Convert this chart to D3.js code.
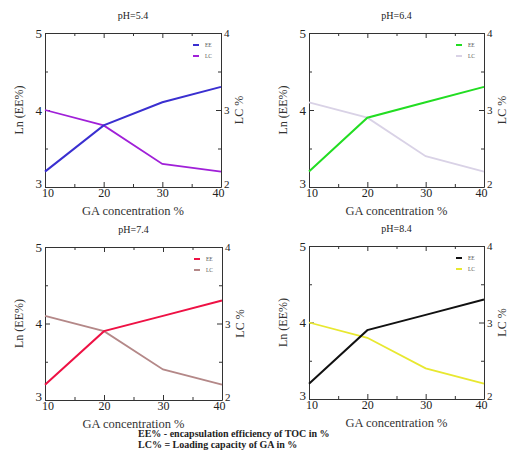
<!DOCTYPE html>
<html><head><meta charset="utf-8">
<script src="https://cdn.jsdelivr.net/npm/d3@7"></script>
<style>body{margin:0;background:#fff}svg{display:block}text{font-family:"Liberation Serif","DejaVu Serif",serif}</style>
</head><body><svg id="c" width="512" height="465"></svg>
<script>
const gaConc = [10, 20, 30, 40];
const titles = ["pH=5.4", "pH=6.4", "pH=7.4", "pH=8.4"];
const eeLn = [
  [3.2, 3.8, 4.1, 4.3],
  [3.2, 3.9, 4.1, 4.3],
  [3.2, 3.9, 4.1, 4.3],
  [3.2, 3.9, 4.1, 4.3]
];
const lcPct = [
  [3.0, 2.8, 2.3, 2.2],
  [3.1, 2.9, 2.4, 2.2],
  [3.1, 2.9, 2.4, 2.2],
  [3.0, 2.8, 2.4, 2.2]
];
const eeColors = ["#3a2fd0", "#22dd22", "#ee1144", "#111111"];
const lcColors = ["#a020d8", "#d9d2e6", "#b48888", "#e8e830"];
const legendLabels = ["EE", "LC"];
const xTicks = [10, 20, 30, 40];
const leftTicks = [3, 4, 5];
const rightTicks = [2, 3, 4];
const footer = ["EE% - encapsulation efficiency of TOC in %", "LC% = Loading capacity of GA in %"];

const panels = [
  {l:45, r:221, t:33, b:187},
  {l:309, r:484, t:33, b:187},
  {l:45, r:222, t:247, b:400},
  {l:309, r:484, t:246, b:399}
];
const svg = d3.select("#c");

panels.forEach((p, i) => {
  const g = svg.append("g");
  const x = d3.scaleLinear().domain([10, 40]).range([p.l, p.r]);
  const yL = d3.scaleLinear().domain([3, 5]).range([p.b, p.t]);
  const yR = d3.scaleLinear().domain([2, 4]).range([p.b, p.t]);
  const axStyle = sel => { sel.select(".domain").attr("stroke", "#333").attr("stroke-width", 1);
    sel.selectAll(".tick line").attr("stroke", "#333"); };

  // bottom major + minor
  g.append("g").attr("transform", `translate(0,${p.b})`)
    .call(d3.axisBottom(x).tickValues(xTicks).tickSize(-5).tickPadding(3).tickSizeOuter(0).tickFormat(d3.format("d")))
    .call(axStyle)
    .call(s => s.selectAll("text").attr("font-size", 12).attr("fill", "#222").attr("dy", "0.6em"))
    .call(s => s.selectAll(".tick text").filter(d => d === 10).attr("dx", "0.2em"))
    .call(s => s.selectAll(".tick text").filter(d => d === 40).attr("dx", "-0.25em"));
  g.append("g").attr("transform", `translate(0,${p.b})`)
    .call(d3.axisBottom(x).tickValues([15, 25, 35]).tickSize(-3).tickFormat("").tickSizeOuter(0))
    .call(axStyle).call(s => s.select(".domain").remove());
  // top
  g.append("g").attr("transform", `translate(0,${p.t})`)
    .call(d3.axisTop(x).tickValues(xTicks).tickSize(-5).tickFormat("").tickSizeOuter(0)).call(axStyle);
  g.append("g").attr("transform", `translate(0,${p.t})`)
    .call(d3.axisTop(x).tickValues([15, 25, 35]).tickSize(-3).tickFormat("").tickSizeOuter(0))
    .call(axStyle).call(s => s.select(".domain").remove());
  // left
  g.append("g").attr("transform", `translate(${p.l},0)`)
    .call(d3.axisLeft(yL).tickValues(leftTicks).tickSize(-5).tickPadding(3).tickSizeOuter(0).tickFormat(d3.format("d")))
    .call(axStyle).call(s => s.selectAll("text").attr("font-size", 13).attr("fill", "#222"))
    .call(s => s.selectAll(".tick text").filter(d => d === 3).attr("dy", "0.05em"));
  g.append("g").attr("transform", `translate(${p.l},0)`)
    .call(d3.axisLeft(yL).tickValues([3.5, 4.5]).tickSize(-3).tickFormat("").tickSizeOuter(0))
    .call(axStyle).call(s => s.select(".domain").remove());
  // right
  g.append("g").attr("transform", `translate(${p.r},0)`)
    .call(d3.axisRight(yR).tickValues(rightTicks).tickSize(-5).tickPadding(3).tickSizeOuter(0).tickFormat(d3.format("d")))
    .call(axStyle).call(s => s.selectAll("text").attr("font-size", 11).attr("fill", "#222"))
    .call(s => s.selectAll(".tick text").filter(d => d === 2).attr("dy", "0.0em"));
  g.append("g").attr("transform", `translate(${p.r},0)`)
    .call(d3.axisRight(yR).tickValues([2.5, 3.5]).tickSize(-3).tickFormat("").tickSizeOuter(0))
    .call(axStyle).call(s => s.select(".domain").remove());

  // lines
  const lineL = d3.line().x((d, k) => x(gaConc[k])).y(d => yL(d));
  const lineR = d3.line().x((d, k) => x(gaConc[k])).y(d => yR(d));
  g.append("path").attr("d", lineR(lcPct[i])).attr("fill", "none").attr("stroke", lcColors[i]).attr("stroke-width", 1.8);
  g.append("path").attr("d", lineL(eeLn[i])).attr("fill", "none").attr("stroke", eeColors[i]).attr("stroke-width", 2);

  // legend
  const lx = p.r - 28, ly = p.t + 12;
  [eeColors[i], lcColors[i]].forEach((c, k) => {
    g.append("line").attr("x1", lx).attr("x2", lx + 6).attr("y1", ly + k * 11).attr("y2", ly + k * 11)
      .attr("stroke", c).attr("stroke-width", 2);
    g.append("text").attr("x", lx + 12).attr("y", ly + k * 11 + 2).attr("font-size", 5.5).attr("fill", "#555")
      .text(legendLabels[k]);
  });

  // titles & labels
  const cx = (p.l + p.r) / 2, cy = (p.t + p.b) / 2;
  g.append("text").attr("x", cx).attr("y", p.t - 14).attr("text-anchor", "middle").attr("font-size", 10).attr("fill", "#222").text(titles[i]);
  g.append("text").attr("x", cx).attr("y", p.b + 28).attr("text-anchor", "middle").attr("font-size", 12.5).attr("fill", "#333").text("GA concentration %");
  g.append("text").attr("transform", `translate(${p.l - 22},${cy}) rotate(-90)`).attr("text-anchor", "middle").attr("font-size", 12).attr("fill", "#333").text("Ln (EE%)");
  g.append("text").attr("transform", `translate(${p.r + 22},${cy}) rotate(-90)`).attr("text-anchor", "middle").attr("font-size", 12).attr("fill", "#333").text("LC %");
});

footer.forEach((t, k) => {
  svg.append("text").attr("x", 138).attr("y", 437 + k * 11).attr("font-size", 10).attr("font-weight", "bold").attr("fill", "#222").text(t);
});
</script></body></html>
